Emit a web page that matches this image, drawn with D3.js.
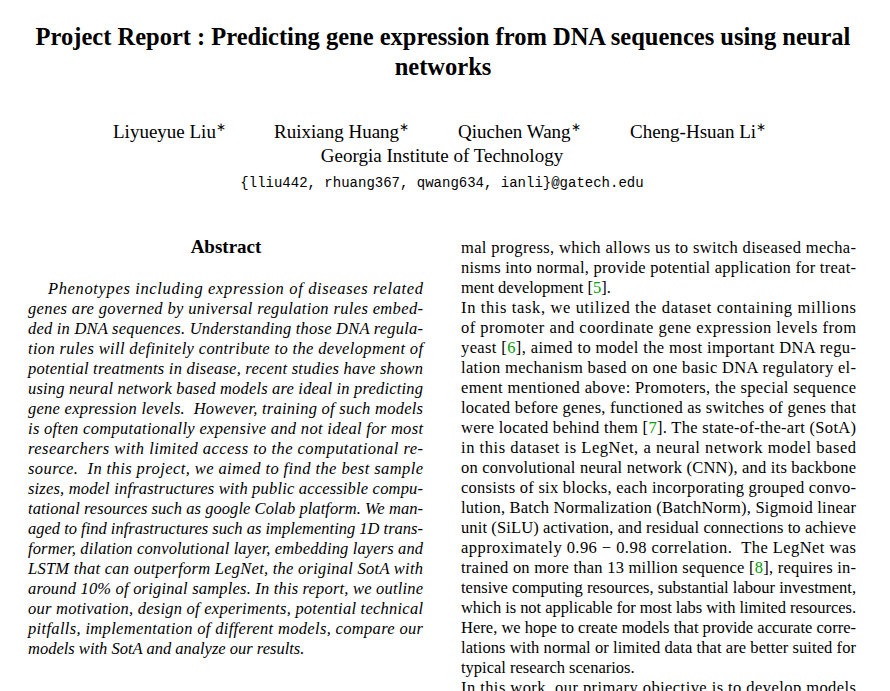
<!DOCTYPE html>
<html><head><meta charset="utf-8">
<script src="https://cdn.jsdelivr.net/npm/d3@7/dist/d3.min.js"></script>
<style>body{margin:0;background:#fff} svg text{font-family:"Liberation Serif","Times New Roman",Times,serif}
svg text.mono{font-family:"Liberation Mono","DejaVu Sans Mono",monospace}</style>
</head><body><div id="page"></div>
<script>
const titleLines = ["Project Report : Predicting gene expression from DNA sequences using neural", "networks"];
const authors = [["Liyueyue Liu", 113], ["Ruixiang Huang", 274], ["Qiuchen Wang", 458], ["Cheng-Hsuan Li", 630]];
const affiliation = "Georgia Institute of Technology";
const email = "{lliu442, rhuang367, qwang634, ianli}@gatech.edu";

// [text, justified?]  {n} marks green citation
const abstractLines = [
  ["Phenotypes including expression of diseases related", true],
  ["genes are governed by universal regulation rules embed-", true],
  ["ded in DNA sequences. Understanding those DNA regula-", true],
  ["tion rules will definitely contribute to the development of", true],
  ["potential treatments in disease, recent studies have shown", true],
  ["using neural network based models are ideal in predicting", true],
  ["gene expression levels.  However, training of such models", true],
  ["is often computationally expensive and not ideal for most", true],
  ["researchers with limited access to the computational re-", true],
  ["source.  In this project, we aimed to find the best sample", true],
  ["sizes, model infrastructures with public accessible compu-", true],
  ["tational resources such as google Colab platform. We man-", true],
  ["aged to find infrastructures such as implementing 1D trans-", true],
  ["former, dilation convolutional layer, embedding layers and", true],
  ["LSTM that can outperform LegNet, the original SotA with", true],
  ["around 10% of original samples. In this report, we outline", true],
  ["our motivation, design of experiments, potential technical", true],
  ["pitfalls, implementation of different models, compare our", true],
  ["models with SotA and analyze our results.", false]
];
const rightLines = [
  ["mal progress, which allows us to switch diseased mecha-", true],
  ["nisms into normal, provide potential application for treat-", true],
  ["ment development [{5}].", false],
  ["In this task, we utilized the dataset containing millions", true],
  ["of promoter and coordinate gene expression levels from", true],
  ["yeast [{6}], aimed to model the most important DNA regu-", true],
  ["lation mechanism based on one basic DNA regulatory el-", true],
  ["ement mentioned above: Promoters, the special sequence", true],
  ["located before genes, functioned as switches of genes that", true],
  ["were located behind them [{7}]. The state-of-the-art (SotA)", true],
  ["in this dataset is LegNet, a neural network model based", true],
  ["on convolutional neural network (CNN), and its backbone", true],
  ["consists of six blocks, each incorporating grouped convo-", true],
  ["lution, Batch Normalization (BatchNorm), Sigmoid linear", true],
  ["unit (SiLU) activation, and residual connections to achieve", true],
  ["approximately 0.96 − 0.98 correlation.  The LegNet was", true],
  ["trained on more than 13 million sequence [{8}], requires in-", true],
  ["tensive computing resources, substantial labour investment,", true],
  ["which is not applicable for most labs with limited resources.", true],
  ["Here, we hope to create models that provide accurate corre-", true],
  ["lations with normal or limited data that are better suited for", true],
  ["typical research scenarios.", false],
  ["In this work, our primary objective is to develop models", true]
];

const W = 890, H = 691;
const svg = d3.select("#page").append("svg").attr("width", W).attr("height", H).attr("fill", "#000");

svg.selectAll("text.title").data(titleLines).join("text")
  .attr("class", "title").attr("x", W / 2 - 2).attr("y", (d, i) => 45 + i * 30)
  .attr("text-anchor", "middle").attr("font-size", 24.5).attr("font-weight", "bold").text(d => d);

const au = svg.selectAll("text.author").data(authors).join("text")
  .attr("class", "author").attr("x", d => d[1]).attr("y", 138).attr("font-size", 19);
au.append("tspan").text(d => d[0]);
au.append("tspan").attr("dy", -7).attr("font-size", 12).text("∗");

svg.append("text").attr("x", 442).attr("y", 162).attr("text-anchor", "middle")
  .attr("font-size", 19).text(affiliation);
svg.append("text").attr("class", "mono").attr("x", 442).attr("y", 187).attr("text-anchor", "middle")
  .attr("font-size", 14).text(email);

svg.append("text").attr("x", 226).attr("y", 253).attr("text-anchor", "middle")
  .attr("font-size", 19).attr("font-weight", "bold").text("Abstract");

function column(lines, x0, x1, y0, italic, indentFirst) {
  lines.forEach(([t, just], i) => {
    const x = (indentFirst && i === 0) ? x0 + 20 : x0;
    const el = svg.append("text").attr("x", x).attr("y", y0 + i * 20)
      .attr("font-size", 16.5).attr("font-style", italic ? "italic" : "normal")
      .attr("xml:space", "preserve");
    t.split(/(\{\d+\})/).forEach(part => {
      const m = part.match(/^\{(\d+)\}$/);
      el.append("tspan").attr("fill", m ? "#00a000" : "#000").text(m ? m[1] : part);
    });
    if (just) el.attr("textLength", x1 - x).attr("lengthAdjust", "spacing");
  });
}
column(abstractLines, 28, 423, 294, true, true);
column(rightLines, 461, 856, 253, false, false);
</script></body></html>
